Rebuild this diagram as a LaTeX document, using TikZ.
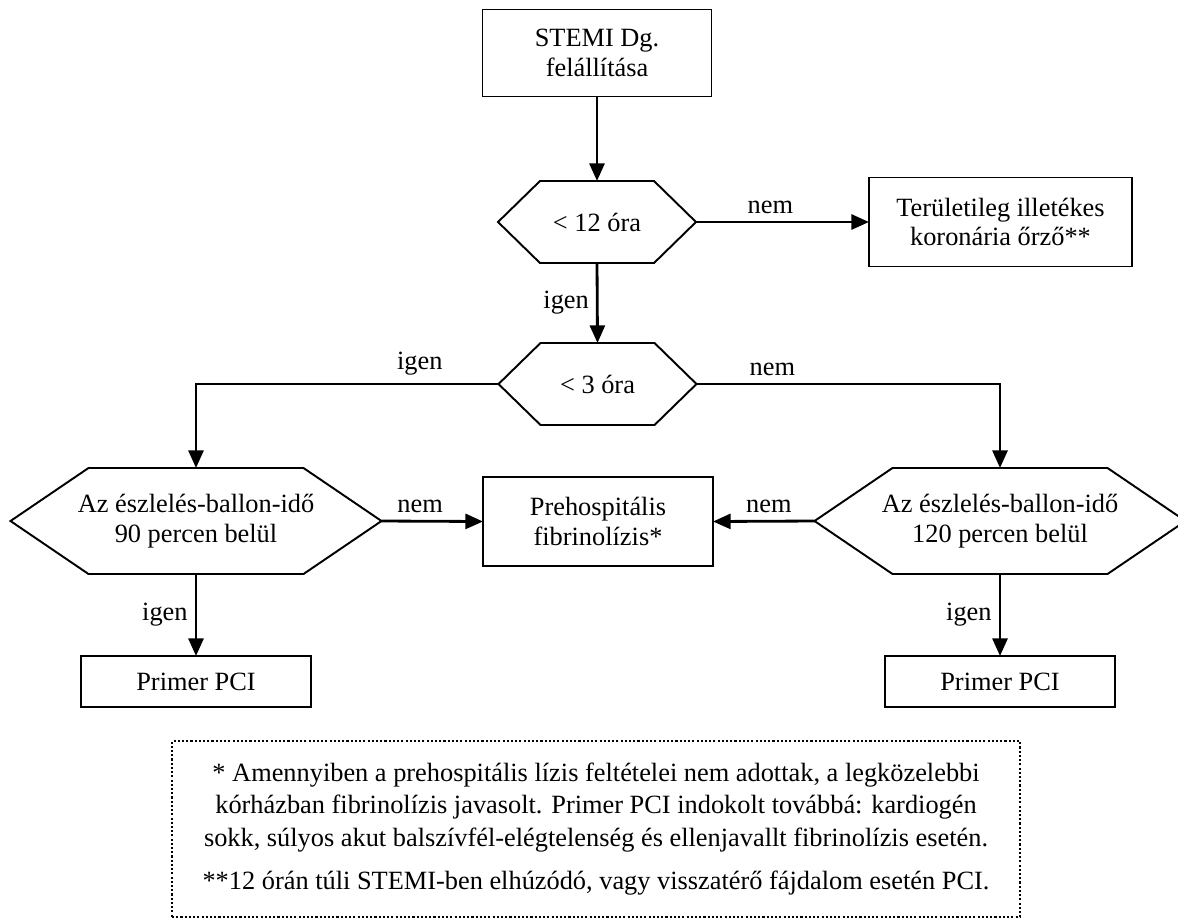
\documentclass[tikz,border=0pt]{standalone}
\usepackage{fontspec}
\setmainfont{Liberation Serif}
\usetikzlibrary{arrows.meta}
%
\tikzset{
  box/.style={draw, line width=1.1pt, align=center, inner sep=0pt, outer sep=0pt},
  hexa/.style={align=center, inner sep=0pt, outer sep=0pt},
  frame/.style={line width=1.1pt, line join=miter},
  conn/.style={line width=1.6pt, -{Triangle[length=10pt,width=8.5pt]}},
  lab/.style={inner sep=4pt},
  notebox/.style={draw, line width=1.3pt, dash pattern=on 1.2pt off 1.2pt, align=center,
    inner sep=0pt, minimum width=16.96cm, minimum height=3.52cm},
}
%
% hexagon outline round a named node: #1 node, #2 horizontal inset of the corners
\newcommand{\hexFrame}[2]{%
  \draw[frame] (#1.west) -- ([xshift=#2]#1.north west) -- ([xshift=-#2]#1.north east)
    -- (#1.east) -- ([xshift=-#2]#1.south east) -- ([xshift=#2]#1.south west) -- cycle;}
%
\begin{document}
\begin{tikzpicture}[font=\fontsize{15}{17}\selectfont]
\useasboundingbox (0,0) rectangle (23.56,-18.38);
%
% boxes
\node[box, minimum width=4.58cm, minimum height=1.74cm] (diag) at (11.94,-1.06) {STEMI Dg.\\felállítása};
\node[box, minimum width=5.26cm, minimum height=1.78cm] (koro) at (20.01,-4.44) {Területileg illetékes\\koronária őrző**};
\node[box, minimum width=4.6cm, minimum height=1.78cm] (fibr) at (11.96,-10.43) {Prehospitális\\fibrinolízis*};
\node[box, minimum width=4.6cm, minimum height=1.02cm] (pciL) at (3.92,-13.63) {Primer PCI};
\node[box, minimum width=4.6cm, minimum height=1.02cm] (pciR) at (20,-13.63) {Primer PCI};
%
% decisions
\node[hexa, minimum width=3.96cm, minimum height=1.64cm] (h12) at (11.94,-4.44) {< 12 óra};
\node[hexa, minimum width=3.96cm, minimum height=1.64cm] (h3) at (11.95,-7.68) {< 3 óra};
\node[hexa, minimum width=7.42cm, minimum height=2.12cm] (hP90) at (3.92,-10.42) {Az észlelés-ballon-idő\\90 percen belül};
\node[hexa, minimum width=7.42cm, minimum height=2.12cm] (hP120) at (20,-10.42) {Az észlelés-ballon-idő\\120 percen belül};
\hexFrame{h12}{0.84cm}
\hexFrame{h3}{0.84cm}
\hexFrame{hP90}{1.56cm}
\hexFrame{hP120}{1.56cm}
%
% connectors
\draw[conn] (diag) -- (h12);
\draw[conn] (h12.east) -- node[lab, above, pos=0.43] {nem} (koro.west);
\draw[conn] (h12.south) -- node[lab, left] {igen} (h3.north);
\draw[conn] (h3.west) -| node[lab, above, pos=0.13] {igen} (hP90.north);
\draw[conn] (h3.east) -| node[lab, above, pos=0.125] {nem} (hP120.north);
\draw[conn] (hP90.east) -- node[lab, above, pos=0.38] {nem} (fibr.west);
\draw[conn] (hP120.west) -- node[lab, above, pos=0.45] {nem} (fibr.east);
\draw[conn] (hP90.south) -- node[lab, left] {igen} (pciL.north);
\draw[conn] (hP120.south) -- node[lab, left] {igen} (pciR.north);
%
% footnotes
\node[notebox, font=\fontsize{15}{18.5}\selectfont] (note) at (11.92,-16.58) {%
* Amennyiben a prehospitális lízis feltételei nem adottak, a legközelebbi\\
kórházban fibrinolízis javasolt. Primer PCI indokolt továbbá: kardiogén\\
sokk, súlyos akut balszívfél-elégtelenség és ellenjavallt fibrinolízis esetén.\\[6pt]
**12 órán túli STEMI-ben elhúzódó, vagy visszatérő fájdalom esetén PCI.};
%
\end{tikzpicture}
\end{document}
